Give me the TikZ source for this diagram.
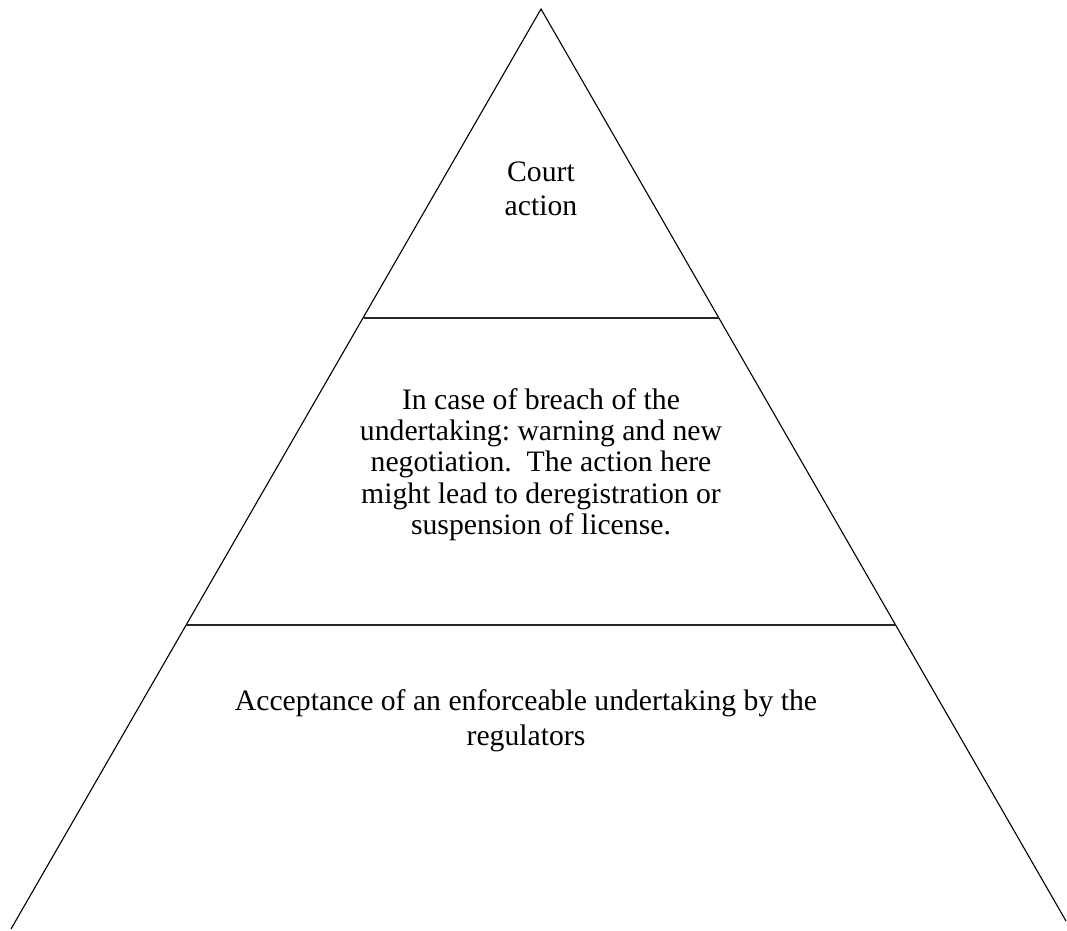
\documentclass[tikz,border=0pt]{standalone}
\usepackage{fontspec}
\setmainfont{Liberation Serif}
\frenchspacing
\begin{document}
\begin{tikzpicture}[x=1pt,y=1pt,
  edge/.style={draw=black,line width=1.1pt},
  tier/.style={draw=black!85,line width=1.3pt},
  label/.style={align=center,inner sep=0pt,anchor=base,
    font=\fontsize{29.7}{34.5}\selectfont}]
\useasboundingbox (0,0) rectangle (1067,930);
% pyramid outline (open at the bottom)
\coordinate (apex) at (541,921);
\coordinate (bl) at (11,1);
\coordinate (br) at (1066,9);
\draw[edge,line join=miter] (bl) -- (apex) -- (br);
% tier dividers
\coordinate (t1l) at (364,612);
\coordinate (t1r) at (719,612);
\coordinate (t2l) at (186,305);
\coordinate (t2r) at (896,305);
\draw[tier] (t1l) -- (t1r);
\draw[tier] (t2l) -- (t2r);
% tier texts (base anchor = last line)
\node[label] (top) at (541,714) {Court\\action};
\node[label,font=\fontsize{29.7}{31.3}\selectfont] (mid) at (541,395.5) {In case of breach of the\\undertaking: warning and new\\negotiation.\ \ The action here\\might lead to deregistration or\\suspension of license.};
\node[label] (bot) at (526,185) {Acceptance of an enforceable undertaking by the\\regulators};
\end{tikzpicture}
\end{document}
